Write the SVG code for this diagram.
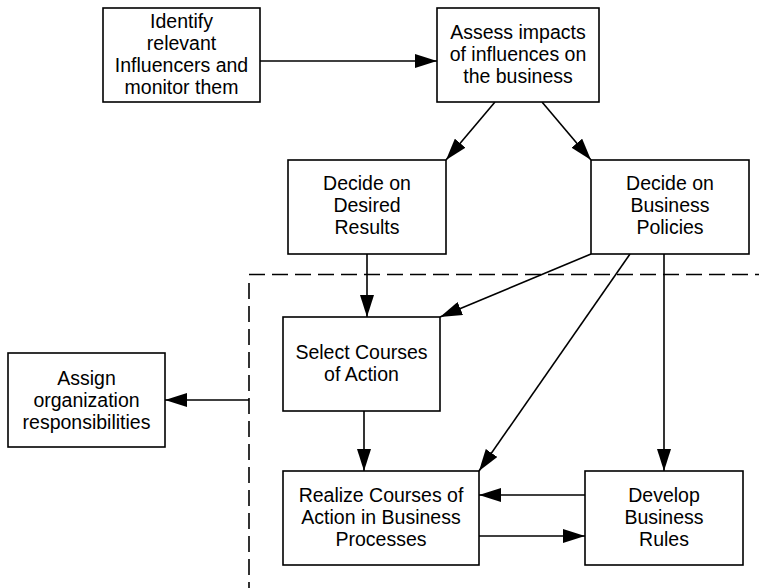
<svg xmlns="http://www.w3.org/2000/svg" width="759" height="588" viewBox="0 0 759 588">
<style>
.box{fill:#fff;stroke:#000;stroke-width:1.6}
.lbl{font-family:"Liberation Sans",Arial,sans-serif;font-size:19.5px;fill:#000;text-anchor:middle}
.con{stroke:#000;stroke-width:1.6;fill:none;marker-end:url(#ah)}
.dash{stroke:#000;stroke-width:1.6;fill:none;stroke-dasharray:16 7}
</style>
<defs>
<marker id="ah" viewBox="0 0 22 14" refX="22" refY="7" markerWidth="22" markerHeight="14" markerUnits="userSpaceOnUse" orient="auto">
<path d="M0,0 L22,7 L0,14 Z" fill="#000"/>
</marker>
</defs>
<rect width="759" height="588" fill="#fff"/>
<g id="boundary">
<line class="dash" x1="249" y1="274.5" x2="759" y2="274.5"/>
<line class="dash" x1="249" y1="283" x2="249" y2="588"/>
</g>
<g id="connectors">
<line class="con" x1="260" y1="61" x2="437" y2="61"/>
<line class="con" x1="495" y1="102" x2="446" y2="160"/>
<line class="con" x1="542" y1="102" x2="591" y2="160"/>
<line class="con" x1="367" y1="254" x2="367" y2="317"/>
<line class="con" x1="591" y1="254" x2="440" y2="317"/>
<line class="con" x1="630" y1="254" x2="479" y2="471"/>
<line class="con" x1="664" y1="254" x2="664" y2="471"/>
<line class="con" x1="364" y1="411" x2="364" y2="471"/>
<line class="con" x1="585" y1="495" x2="479" y2="495"/>
<line class="con" x1="479" y1="536" x2="585" y2="536"/>
<line class="con" x1="249" y1="400" x2="165" y2="400"/>
</g>
<g id="identify">
<rect class="box" x="103" y="8" width="157" height="94"/>
<text class="lbl" x="181.5" y="28">Identify</text>
<text class="lbl" x="181.5" y="50">relevant</text>
<text class="lbl" x="181.5" y="72">Influencers and</text>
<text class="lbl" x="181.5" y="94">monitor them</text>
</g>
<g id="assess">
<rect class="box" x="437" y="8" width="162" height="94"/>
<text class="lbl" x="518" y="38.5">Assess impacts</text>
<text class="lbl" x="518" y="60.5">of influences on</text>
<text class="lbl" x="518" y="82.5">the business</text>
</g>
<g id="desired">
<rect class="box" x="288" y="160" width="158" height="94"/>
<text class="lbl" x="367" y="189.5">Decide on</text>
<text class="lbl" x="367" y="211.5">Desired</text>
<text class="lbl" x="367" y="233.5">Results</text>
</g>
<g id="policies">
<rect class="box" x="591" y="160" width="158" height="94"/>
<text class="lbl" x="670" y="189.5">Decide on</text>
<text class="lbl" x="670" y="211.5">Business</text>
<text class="lbl" x="670" y="233.5">Policies</text>
</g>
<g id="select">
<rect class="box" x="283" y="317" width="157" height="94"/>
<text class="lbl" x="361.5" y="359">Select Courses</text>
<text class="lbl" x="361.5" y="381">of Action</text>
</g>
<g id="assign">
<rect class="box" x="8" y="353" width="157" height="94"/>
<text class="lbl" x="86.5" y="384.5">Assign</text>
<text class="lbl" x="86.5" y="406.5">organization</text>
<text class="lbl" x="86.5" y="428.5">responsibilities</text>
</g>
<g id="realize">
<rect class="box" x="283" y="471" width="196" height="94"/>
<text class="lbl" x="381" y="502">Realize Courses of</text>
<text class="lbl" x="381" y="524">Action in Business</text>
<text class="lbl" x="381" y="546">Processes</text>
</g>
<g id="rules">
<rect class="box" x="585" y="471" width="158" height="94"/>
<text class="lbl" x="664" y="502">Develop</text>
<text class="lbl" x="664" y="524">Business</text>
<text class="lbl" x="664" y="546">Rules</text>
</g>
</svg>
